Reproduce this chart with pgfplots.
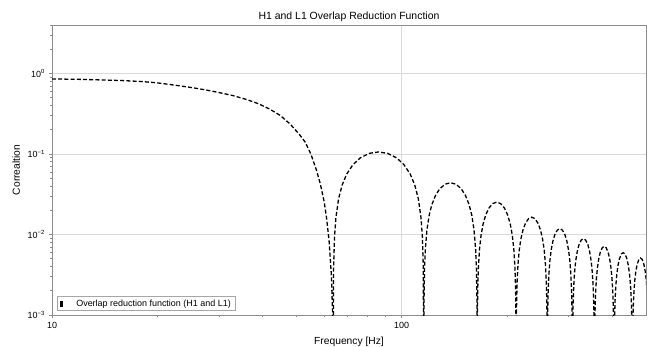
\documentclass[border=0pt]{standalone}
\usepackage{fontspec}
\setmainfont{Liberation Sans}
\usepackage{pgfplots}
\pgfplotsset{compat=1.18}
\definecolor{gridgray}{HTML}{D9D9D9}
\definecolor{framegray}{HTML}{8C8C8C}

\pgfplotstableread{
f g
10 0.855
12 0.845
14 0.83
16 0.815
18 0.795
20 0.765
22.5 0.715
25 0.67
27.5 0.625
30 0.58
33 0.53
36 0.475
39 0.42
42 0.36
45 0.30
48 0.235
51 0.175
53 0.14
55 0.10
57 0.064
58.5 0.043
60 0.026
61 0.016
62 0.0085
63 0.0030
63.4 0.0012
63.7 0.00001
63.89 0.00382
64.27 0.0092
64.85 0.0160
66.02 0.0278
67.62 0.0414
69.66 0.0564
72.64 0.0739
76.19 0.0895
80.87 0.1019
85.85 0.106
91.13 0.1019
96.74 0.0895
101.46 0.0739
105.80 0.0564
109.0 0.0414
111.63 0.0278
113.65 0.0160
114.67 0.0092
115.36 0.00382
115.7 0.00001
115.90 0.00158
116.31 0.00381
116.93 0.00663
118.17 0.0115
119.84 0.01716
121.97 0.02335
125.01 0.0306
128.58 0.03705
133.19 0.04219
137.96 0.0439
142.90 0.04219
148.02 0.03705
152.25 0.0306
156.04 0.02335
158.81 0.01716
161.06 0.0115
162.77 0.00663
163.63 0.00381
164.21 0.00158
164.5 0.00001
164.71 0.00091
165.13 0.00219
165.77 0.0038
167.05 0.0066
168.77 0.00985
170.95 0.0134
174.05 0.01756
177.66 0.02127
182.27 0.02422
187.01 0.0252
191.87 0.02422
196.85 0.02127
200.93 0.01756
204.57 0.0134
207.22 0.00985
209.35 0.0066
210.97 0.0038
211.78 0.00219
212.33 0.00091
212.6 0.00001
212.82 0.00059
213.25 0.00142
213.91 0.00248
215.23 0.0043
217.0 0.00641
219.24 0.00872
222.41 0.01143
226.09 0.01384
230.78 0.01576
235.56 0.0164
240.44 0.01576
245.42 0.01384
249.48 0.01143
253.09 0.00872
255.70 0.00641
257.81 0.0043
259.4 0.00248
260.2 0.00142
260.73 0.00059
261 0.00001
261.22 0.000425
261.65 0.00102
262.30 0.00178
263.60 0.00309
265.36 0.00461
267.56 0.00628
270.68 0.00822
274.29 0.00996
278.87 0.01134
283.53 0.0118
288.26 0.01134
293.07 0.00996
296.98 0.00822
300.44 0.00628
302.94 0.00461
304.95 0.00309
306.48 0.00178
307.24 0.00102
307.74 0.000425
308 0.00001
308.22 0.00032
308.67 0.00077
309.34 0.00134
310.69 0.00232
312.49 0.00347
314.76 0.00472
317.97 0.00618
321.68 0.00749
326.37 0.00852
331.13 0.00887
335.96 0.00852
340.86 0.00749
344.84 0.00618
348.35 0.00472
350.88 0.00347
352.92 0.00232
354.46 0.00134
355.23 0.00077
355.74 0.00032
356 0.00001
356.23 0.000257
356.69 0.000619
357.38 0.00108
358.77 0.00187
360.62 0.00279
362.95 0.00379
366.25 0.00497
370.04 0.00602
374.85 0.00685
379.71 0.00713
384.64 0.00685
389.63 0.00602
393.67 0.00497
397.24 0.00379
399.81 0.00279
401.88 0.00187
403.44 0.00108
404.22 0.000619
404.74 0.000257
405 0.00001
405.24 0.000214
405.73 0.000516
406.47 0.0009
407.94 0.00156
409.92 0.00233
412.41 0.00317
415.91 0.00415
419.94 0.00502
425.05 0.00572
430.22 0.00595
435.44 0.00572
440.74 0.00502
445.01 0.00415
448.79 0.00317
451.51 0.00233
453.70 0.00156
455.35 0.0009
456.17 0.000516
456.73 0.000214
457 0.00001
457.25 0.000184
457.74 0.000443
458.48 0.00077
459.97 0.00134
461.95 0.00199
464.45 0.00271
467.96 0.00355
472.02 0.0043
477.13 0.0049
482.3 0.0051
487.53 0.0049
492.81 0.0043
497.07 0.00355
500.84 0.00271
503.54 0.00199
}\orfdata

\begin{document}
\begin{tikzpicture}
\begin{axis}[
  scale only axis, width=594bp, height=290bp,
  xmode=log, ymode=log,
  xmin=10, xmax=500, ymin=1e-3, ymax=4,
  axis line style={framegray, line width=0.8bp},
  tick style={framegray, line width=0.6bp},
  tick align=outside,
  xtick pos=bottom, ytick pos=left,
  major tick length=3.5bp, minor tick length=2bp,
  xtick={10,100}, xticklabels={10,100},
  minor xtick={20,30,40,50,60,70,80,90,200,300,400},
  ytick={0.001,0.01,0.1,1},
  yticklabels={10\textsuperscript{−3},10\textsuperscript{−2},10\textsuperscript{−1},10\textsuperscript{0}},
  minor ytick={0.002,0.003,0.004,0.005,0.006,0.007,0.008,0.009,0.02,0.03,0.04,0.05,0.06,0.07,0.08,0.09,0.2,0.3,0.4,0.5,0.6,0.7,0.8,0.9,2,3,4},
  xmajorgrids, ymajorgrids,
  major grid style={gridgray, line width=0.8bp},
  tick label style={font=\fontsize{9}{10}\selectfont},
  title={H1 and L1 Overlap Reduction Function},
  title style={at={(axis description cs:0.5,1.019)}, anchor=base, yshift=-6pt, font=\fontsize{10.5}{12}\selectfont, inner sep=0pt},
  xlabel={Frequency [Hz]},
  xlabel style={at={(axis description cs:0.5,-0.1)}, anchor=base, font=\fontsize{10.3}{12}\selectfont, inner sep=0pt},
  ylabel={Correaltion},
  ylabel style={at={(axis description cs:-0.0539,0.5)}, anchor=base, rotate=0, font=\fontsize{10.3}{12}\selectfont, inner sep=0pt},
  legend style={at={(axis description cs:0.0084,0.0138)}, anchor=south west, draw=gray!70, line width=0.6bp, fill=white, font=\fontsize{9}{10}\selectfont, inner xsep=2.5bp, inner ysep=1bp},
  legend cell align=left,
]
\addplot[black, line width=1.3bp, dash pattern=on 4bp off 2.2bp,
  legend image code/.code={\fill[black, draw=none, solid] (0bp,-3bp) rectangle (3.5bp,3bp); \path[draw=none] (0bp,0bp) -- (14.5bp,0bp);}]
  table[x=f, y=g] {\orfdata};
\addlegendentry{Overlap reduction function (H1 and L1)}
\end{axis}
\pgfresetboundingbox
\path[use as bounding box] (current axis.south west) ++(-52bp,-32bp) rectangle ++(649bp,347bp);
\end{tikzpicture}
\end{document}
